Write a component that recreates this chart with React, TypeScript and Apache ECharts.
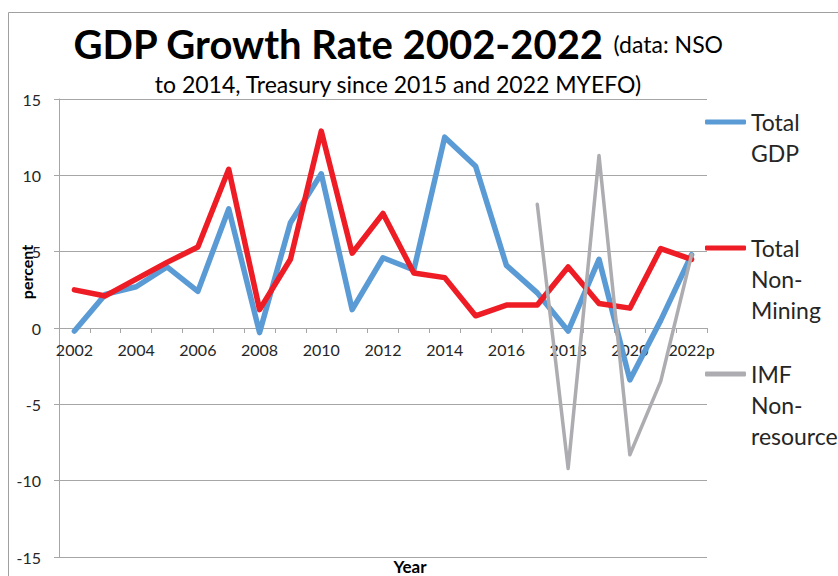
import React, { useEffect, useRef } from "react";
import * as echarts from "echarts";

const years = ["2002","2003","2004","2005","2006","2007","2008","2009","2010","2011","2012","2013","2014","2015","2016","2017","2018","2019","2020","2021","2022p"];
const totalGDP = [-0.2, 2.2, 2.7, 4.0, 2.4, 7.8, -0.3, 6.9, 10.1, 1.2, 4.6, 3.8, 12.5, 10.6, 4.1, 2.3, -0.2, 4.5, -3.4, 0.5, 4.8];
const totalNonMining = [2.5, 2.1, 3.2, 4.3, 5.3, 10.4, 1.2, 4.5, 12.9, 4.9, 7.5, 3.6, 3.3, 0.8, 1.5, 1.5, 4.0, 1.6, 1.3, 5.2, 4.5];
const imfNonResource = [null, null, null, null, null, null, null, null, null, null, null, null, null, null, null, 8.1, -9.2, 11.3, -8.3, -3.5, 4.8];
const yTicks = { min: -15, max: 15, interval: 5 };

const FONT = "Lato, 'Open Sans', sans-serif";
const BLUE = "#5B9BD5";
const RED = "#EE1C25";
const GRAY = "#ADADB1";

const GRID_TOP = 99;
const GRID_BOTTOM_PX = 557;

export default function App() {
  const ref = useRef<HTMLDivElement>(null);
  useEffect(() => {
    if (!ref.current) return;
    const chart = echarts.init(ref.current, null, { renderer: "svg" });
    const LH = 31;
    const legendBase = (name: string, lines: string[], iconY: number) => {
      const blanks = lines.length - 1;
      const all = [...Array(blanks).fill(" "), ...lines];
      const blockH = all.length * LH;
      return {
        data: [name],
        orient: "vertical",
        left: 705,
        top: iconY - blockH / 2,
        padding: 0,
        selectedMode: false,
        itemWidth: 41,
        itemHeight: 5,
        icon: "roundRect",
        formatter: () => all.join("\n"),
        textStyle: {
          fontFamily: FONT,
          fontSize: 23,
          color: "#262626",
          lineHeight: LH,
        },
      };
    };
    const zeroOffset = -((GRID_BOTTOM_PX - GRID_TOP) * (0 - yTicks.min)) / (yTicks.max - yTicks.min);
    chart.setOption({
      animation: false,
      backgroundColor: "#ffffff",
      title: {
        left: 393,
        top: 16,
        textAlign: "center",
        text: "{a|GDP Growth Rate 2002-2022}  {b|(data: NSO}\n{b|to 2014, Treasury since 2015 and 2022 MYEFO)}",
        textStyle: {
          rich: {
            a: { fontFamily: FONT, fontWeight: "bold", fontSize: 40, color: "#000", lineHeight: 46 },
            b: { fontFamily: FONT, fontWeight: "normal", fontSize: 23, color: "#000", lineHeight: 34 },
          },
        },
      },
      legend: [
        legendBase("Total GDP", ["Total", "GDP"], 122),
        legendBase("Total Non-Mining", ["Total", "Non-", "Mining"], 248),
        legendBase("IMF Non-resource", ["IMF", "Non-", "resource"], 374),
      ],
      grid: { left: 59, right: 131, top: GRID_TOP, bottom: 576 - GRID_BOTTOM_PX, containLabel: false, outerBoundsMode: "none" },
      xAxis: {
        type: "category",
        data: years,
        boundaryGap: true,
        offset: zeroOffset,
        z: 0,
        axisLine: { show: true, onZero: false, lineStyle: { color: "#A6A6A6", width: 1 } },
        axisTick: { show: true, interval: 0, alignWithLabel: false, length: 5, lineStyle: { color: "#A6A6A6" } },
        axisLabel: { interval: 1, margin: 13, fontFamily: FONT, fontSize: 16, color: "#262626" },
        splitLine: { show: false },
      },
      yAxis: {
        type: "value",
        min: yTicks.min,
        max: yTicks.max,
        interval: yTicks.interval,
        axisLine: { show: true, lineStyle: { color: "#A6A6A6", width: 1 } },
        axisTick: { show: true, length: 5, lineStyle: { color: "#A6A6A6" } },
        axisLabel: { margin: 18, fontFamily: FONT, fontSize: 16, color: "#262626" },
        splitLine: { show: true, lineStyle: { color: "#A6A6A6", width: 1 } },
      },
      graphic: [
        {
          type: "rect",
          shape: { x: 8.5, y: 12.5, width: 900, height: 700, r: 0 },
          style: { fill: "none", stroke: "#A0A0A0", lineWidth: 1 },
          silent: true,
          z: -10,
        },
        {
          type: "text",
          x: 26,
          y: 272,
          rotation: Math.PI / 2,
          style: { text: "percent", fontFamily: FONT, fontWeight: "bold", fontSize: 16, fill: "#000", align: "center", verticalAlign: "middle" },
        },
        {
          type: "text",
          x: 410,
          y: 566,
          style: { text: "Year", fontFamily: FONT, fontWeight: "bold", fontSize: 17, fill: "#000", align: "center", verticalAlign: "middle" },
        },
      ],
      series: [
        {
          name: "Total GDP",
          type: "line",
          data: totalGDP,
          showSymbol: false,
          symbol: "none",
          color: BLUE,
          lineStyle: { color: BLUE, width: 5.5, cap: "round", join: "round" },
          z: 3,
        },
        {
          name: "Total Non-Mining",
          type: "line",
          data: totalNonMining,
          showSymbol: false,
          symbol: "none",
          color: RED,
          lineStyle: { color: RED, width: 5.5, cap: "round", join: "round" },
          z: 4,
        },
        {
          name: "IMF Non-resource",
          type: "line",
          data: imfNonResource,
          showSymbol: false,
          symbol: "none",
          color: GRAY,
          lineStyle: { color: GRAY, width: 3.5, cap: "round", join: "round" },
          z: 5,
        },
      ],
    });
    return () => chart.dispose();
  }, []);
  return (
    <div
      ref={ref}
      style={{ position: "absolute", left: 0, top: 0, width: 838, height: 576 }}
    />
  );
}
